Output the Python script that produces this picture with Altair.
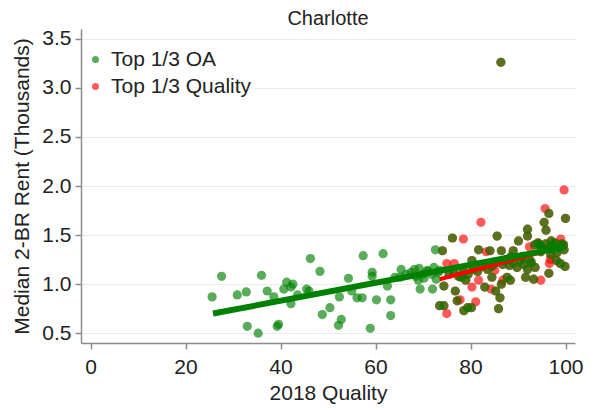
import altair as alt
import pandas as pd

# Points only in the "Top 1/3 OA" group (light green)
oa_only_x = [25.6, 27.6, 30.9, 32.8, 33.0, 35.3, 36.0, 37.2, 38.6, 39.3, 39.6, 40.7, 41.3, 42.2, 42.2,
             43.6, 46.0, 46.3, 48.3, 48.8, 50.4, 52.4, 52.2, 52.8, 54.3, 55.0, 56.1, 57.2, 57.4, 58.9,
             59.3, 59.3, 60.2, 61.6, 62.5, 63.2, 63.2, 64.1, 65.4, 66.5, 65.2, 68.2, 69.0, 69.4, 70.0,
             70.9, 72.0, 72.6, 72.3, 73.5, 67.5, 68.5, 69.2, 70.2, 71.0, 71.8, 72.8, 73.2, 42.6, 45.5]
oa_only_y = [0.87, 1.08, 0.89, 0.92, 0.57, 0.50, 1.09, 0.93, 0.87, 0.57, 0.59, 0.95, 1.02, 0.97, 0.80,
             0.89, 0.93, 1.26, 1.13, 0.69, 0.76, 0.87, 0.58, 0.64, 1.06, 0.93, 0.86, 0.86, 1.29, 0.55,
             1.12, 1.08, 0.84, 1.31, 0.98, 0.84, 0.68, 1.07, 1.15, 1.10, 1.07, 1.15, 1.04, 0.95, 1.10,
             1.14, 0.95, 1.35, 1.17, 1.14, 1.12, 1.08, 1.16, 1.06, 1.13, 1.10, 1.05, 1.12, 1.00, 0.95]

# Points in both groups (drawn red then green -> olive)
both_x = [74.1, 73.5, 74.4, 74.4, 76.2, 76.8, 77.2, 78.0, 78.6, 79.0, 79.4, 80.2, 80.3, 81.7, 83.0,
          83.6, 84.1, 84.5, 85.3, 85.6, 85.9, 86.2, 86.5, 86.5, 86.9, 86.4, 87.7, 88.4, 89.0, 90.1,
          91.6, 92.0, 92.0, 92.5, 93.3, 93.6, 94.4, 95.5, 95.9, 96.5, 96.5, 97.0, 98.1, 98.9, 99.9,
          100.0, 99.6,
          93.5, 94.2, 95.0, 95.8, 96.5, 97.2, 97.8, 98.5, 99.2, 99.7, 94.8, 96.9, 98.2,
          84.5, 85.5, 86.8, 87.5, 88.2, 89.0, 89.8, 90.5, 91.2, 92.0, 92.8, 91.0, 88.5,
          75.5, 76.5, 77.5, 78.5, 79.5, 80.5, 81.5, 82.5]
both_y = [1.34, 0.78, 0.78, 0.98, 1.47, 0.93, 0.83, 1.07, 0.73, 1.04, 0.76, 0.76, 1.24, 1.35, 0.97,
          1.15, 1.34, 1.07, 0.93, 1.49, 0.75, 0.86, 1.00, 1.34, 1.24, 3.26, 1.07, 1.04, 1.34, 1.44,
          1.07, 1.56, 1.49, 1.24, 1.05, 1.17, 1.41, 1.63, 1.55, 1.72, 1.11, 1.44, 1.24, 1.21, 1.18,
          1.67, 1.40,
          1.40, 1.42, 1.38, 1.41, 1.36, 1.40, 1.42, 1.37, 1.41, 1.35, 1.33, 1.30, 1.32,
          1.18, 1.22, 1.20, 1.25, 1.19, 1.22, 1.17, 1.24, 1.20, 1.15, 1.22, 1.28, 1.28,
          1.10, 1.12, 1.08, 1.13, 1.10, 1.15, 1.13, 1.18]

# Points only in the "Top 1/3 Quality" group (red)
qual_only_x = [75.0, 75.0, 76.6, 77.8, 78.5, 80.3, 81.1, 81.7, 82.2, 83.3, 84.3, 85.1, 86.8, 92.4,
               94.8, 95.7, 96.6, 99.0, 99.7, 96.8]
qual_only_y = [1.21, 0.70, 1.21, 0.84, 1.46, 0.97, 0.82, 1.04, 1.63, 1.33, 0.95, 1.14, 1.04, 1.38,
               1.04, 1.77, 1.21, 1.46, 1.96, 1.25]

# Linear fit end points
fit_oa_x = [25.8, 100.0]
fit_oa_y = [0.70, 1.38]
fit_q_x = [73.5, 100.0]
fit_q_y = [1.05, 1.39]

series = ["Top 1/3 OA", "Top 1/3 Quality"]
colors = ["#008000", "#ff0000"]
x_ticks = [0, 20, 40, 60, 80, 100]
y_ticks = [0.5, 1.0, 1.5, 2.0, 2.5, 3.0, 3.5]

rows = []
for x, y in zip(qual_only_x + both_x, qual_only_y + both_y):
    rows.append({"x": x, "y": y, "g": series[1]})
for x, y in zip(oa_only_x + both_x, oa_only_y + both_y):
    rows.append({"x": x, "y": y, "g": series[0]})
pts = pd.DataFrame(rows)
fit_oa = pd.DataFrame({"x": fit_oa_x, "y": fit_oa_y})
fit_q = pd.DataFrame({"x": fit_q_x, "y": fit_q_y})

FONT = "Liberation Sans"
xs = alt.Scale(domain=[-2, 102], nice=False, zero=False)
ys = alt.Scale(domain=[0.4, 3.6], nice=False, zero=False)

x_axis = alt.Axis(values=x_ticks, grid=False, title="2018 Quality", tickSize=6,
                  labelPadding=7, titlePadding=5)
y_axis = alt.Axis(values=y_ticks, format=".1f", grid=True, title="Median 2-BR Rent (Thousands)",
                  tickSize=6, labelPadding=4, titlePadding=9)

points = alt.Chart(pts).mark_circle(size=85, opacity=0.65).encode(
    x=alt.X("x:Q", scale=xs, axis=x_axis),
    y=alt.Y("y:Q", scale=ys, axis=y_axis),
    color=alt.Color("g:N", scale=alt.Scale(domain=series, range=colors),
                    legend=alt.Legend(title=None, orient="none", legendX=2, legendY=18,
                                      fillColor="white", padding=2, labelFontSize=21,
                                      labelFont=FONT, labelColor="#222", symbolSize=49,
                                      symbolType="circle", symbolOpacity=0.65,
                                      symbolStrokeWidth=0, labelOffset=5, rowPadding=5)),
)

line_q = alt.Chart(fit_q).mark_line(color="#ff0000", strokeWidth=4).encode(
    x=alt.X("x:Q", scale=xs), y=alt.Y("y:Q", scale=ys))
line_oa = alt.Chart(fit_oa).mark_line(color="#008000", strokeWidth=6).encode(
    x=alt.X("x:Q", scale=xs), y=alt.Y("y:Q", scale=ys))

chart = alt.layer(points, line_q, line_oa).properties(
    width=494, height=314,
    title=alt.TitleParams("Charlotte", fontSize=20, fontWeight="normal", font=FONT,
                          color="#222", offset=-1, anchor="middle"),
    autosize=alt.AutoSizeParams(type="none"),
    padding={"left": 73, "top": 21, "right": 13, "bottom": 68},
).configure_view(stroke=None).configure_axis(
    labelFont=FONT, titleFont=FONT, labelFontSize=21, titleFontSize=21,
    labelColor="#222", titleColor="#222", titleFontWeight="normal",
    domainColor="#8c8c8c", tickColor="#8c8c8c", domainWidth=1.5, tickWidth=1.5,
    gridColor="#ececec", gridWidth=1,
)

chart.save("out.html", embed_options={"renderer": "svg", "actions": False})
